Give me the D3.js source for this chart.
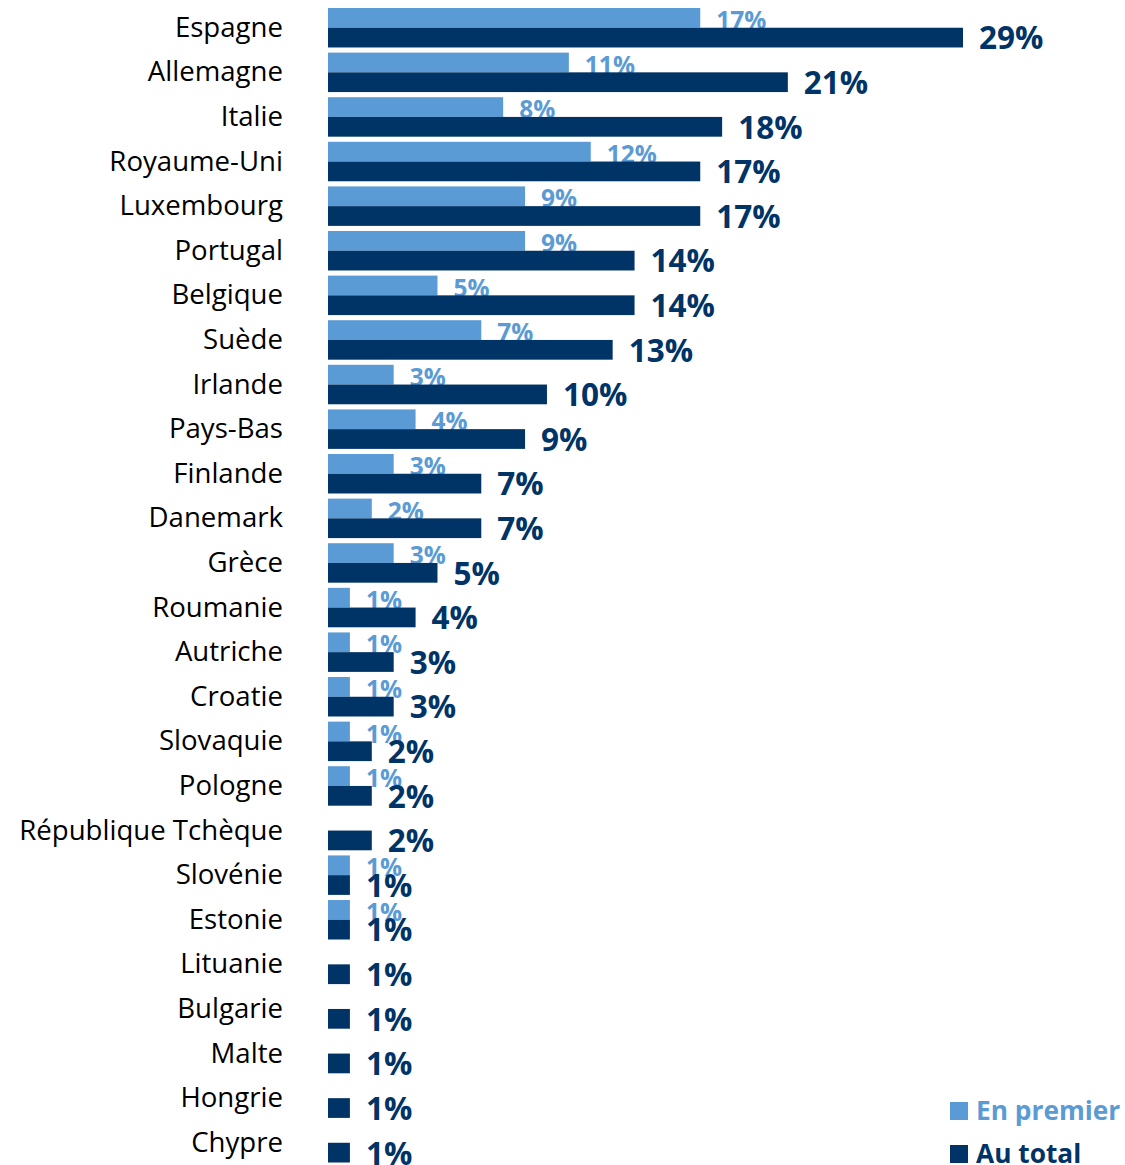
<!DOCTYPE html>
<html>
<head>
<meta charset="utf-8">
<script src="https://cdn.jsdelivr.net/npm/d3@7"></script>
<style>
  html, body { margin: 0; padding: 0; background: #fff; }
  svg { display: block; }
</style>
</head>
<body>
<script>
const categories = ["Espagne","Allemagne","Italie","Royaume-Uni","Luxembourg","Portugal","Belgique","Suède","Irlande","Pays-Bas","Finlande","Danemark","Grèce","Roumanie","Autriche","Croatie","Slovaquie","Pologne","République Tchèque","Slovénie","Estonie","Lituanie","Bulgarie","Malte","Hongrie","Chypre"];
const enPremier = [17,11,8,12,9,9,5,7,3,4,3,2,3,1,1,1,1,1,null,1,1,null,null,null,null,null];
const auTotal = [29,21,18,17,17,14,14,13,10,9,7,7,5,4,3,3,2,2,2,1,1,1,1,1,1,1];
const seriesNames = ["En premier","Au total"];

const W = 1125, H = 1165;
const light = "#5B9BD5", dark = "#003366";
const font = "'Open Sans', sans-serif";

const svg = d3.select("body").append("svg").attr("width", W).attr("height", H);

const x = d3.scaleLinear().domain([0, 29]).range([328, 963]);
const y = d3.scaleBand().domain(categories).range([8, 1162.5]).paddingInner(0.115).paddingOuter(0);
const bw = y.bandwidth();
const half = bw / 2;

const rows = categories.map((c, i) => ({c, p: enPremier[i], t: auTotal[i]}));

// category labels
svg.append("g").selectAll("text").data(rows).join("text")
  .attr("x", 283).attr("y", d => y(d.c) + bw / 2 + 9)
  .attr("text-anchor", "end")
  .attr("font-family", font).attr("font-size", 27.6).attr("fill", "#000")
  .text(d => d.c);

// light bars
svg.append("g").selectAll("rect").data(rows.filter(d => d.p != null)).join("rect")
  .attr("x", x(0)).attr("y", d => y(d.c))
  .attr("width", d => x(d.p) - x(0)).attr("height", half)
  .attr("fill", light);

// light labels
svg.append("g").selectAll("text").data(rows.filter(d => d.p != null)).join("text")
  .attr("x", d => x(d.p) + 16).attr("y", d => y(d.c) + 21)
  .attr("font-family", font).attr("font-size", 24.5).attr("font-weight", "bold")
  .attr("fill", light)
  .text(d => d.p + "%");

// dark bars
svg.append("g").selectAll("rect").data(rows).join("rect")
  .attr("x", x(0)).attr("y", d => y(d.c) + half)
  .attr("width", d => x(d.t) - x(0)).attr("height", half)
  .attr("fill", dark);

// dark labels
svg.append("g").selectAll("text").data(rows).join("text")
  .attr("x", d => x(d.t) + 16).attr("y", d => y(d.c) + bw + 2)
  .attr("font-family", font).attr("font-size", 31.5).attr("font-weight", "bold")
  .attr("fill", dark)
  .text(d => d.t + "%");

// legend
const legend = svg.append("g");
const legendItems = [{name: seriesNames[0], color: light, y: 1102}, {name: seriesNames[1], color: dark, y: 1145}];
legend.selectAll("rect").data(legendItems).join("rect")
  .attr("x", 950).attr("y", d => d.y).attr("width", 18).attr("height", 18)
  .attr("fill", d => d.color);
legend.selectAll("text").data(legendItems).join("text")
  .attr("x", 976).attr("y", d => d.y + 18)
  .attr("font-family", font).attr("font-size", 26.3).attr("font-weight", "bold")
  .attr("fill", d => d.color)
  .text(d => d.name);
</script>
</body>
</html>
